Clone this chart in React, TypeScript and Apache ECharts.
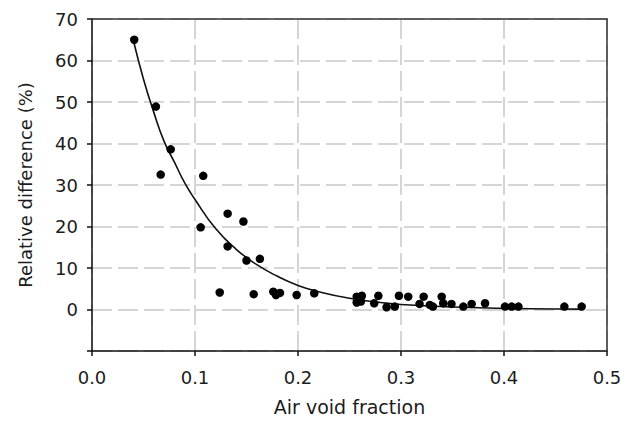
import React, { useEffect, useRef } from "react";
import * as echarts from "echarts";

const pointX = [
  0.041, 0.062, 0.0764, 0.0667, 0.108, 0.1055, 0.1317, 0.147, 0.1317, 0.150,
  0.163, 0.124, 0.157, 0.176, 0.1786, 0.1825, 0.1987, 0.2158, 0.257, 0.262,
  0.257, 0.261, 0.278, 0.274, 0.286, 0.294, 0.298, 0.307, 0.322, 0.318,
  0.328, 0.331, 0.3395, 0.341, 0.349, 0.3605, 0.3686, 0.3816, 0.401, 0.4075,
  0.414, 0.4586, 0.4754,
];
const pointY = [
  65.0, 48.9, 38.6, 32.5, 32.2, 19.8, 23.1, 21.2, 15.2, 11.8,
  12.2, 4.1, 3.7, 4.3, 3.5, 4.0, 3.5, 3.9, 3.1, 3.3,
  1.7, 1.9, 3.3, 1.5, 0.55, 0.7, 3.3, 3.1, 3.1, 1.35,
  1.1, 0.7, 3.1, 1.5, 1.35, 0.7, 1.35, 1.5, 0.7, 0.7,
  0.7, 0.7, 0.7,
];

const curveX = [0.04, 0.05, 0.06, 0.07, 0.08, 0.09, 0.10, 0.12, 0.14, 0.16, 0.18, 0.20, 0.22, 0.25, 0.28, 0.30, 0.35, 0.40, 0.45, 0.475];
const curveY = [65, 55.5, 47.5, 40.5, 35.5, 30.5, 26.5, 19.5, 14.5, 10.8, 8.0, 5.8, 4.3, 2.7, 1.7, 1.2, 0.6, 0.3, 0.12, 0.08];

const xTicks = [0, 0.1, 0.2, 0.3, 0.4, 0.5];
const yTicks = [-10, 0, 10, 20, 30, 40, 50, 60, 70];

const FONT = "DejaVu Sans";
const TEXT = "#1c1c1c";
const LINE = "#111";

export default function App() {
  const ref = useRef<HTMLDivElement>(null);
  useEffect(() => {
    document.body.style.margin = "0";
    document.documentElement.style.overflow = "hidden";
    if (!ref.current) return;
    const chart = echarts.init(ref.current, null, { renderer: "svg" });
    const xMin = xTicks[0];
    const xMax = xTicks[xTicks.length - 1];
    const yMin = yTicks[0];
    const yMax = yTicks[yTicks.length - 1];
    chart.setOption({
      animation: false,
      backgroundColor: "#ffffff",
      grid: { left: 92, top: 19, right: 19, bottom: 68 },
      xAxis: [
        {
          type: "value",
          min: xMin,
          max: xMax,
          interval: 0.1,
          name: "Air void fraction",
          nameLocation: "middle",
          nameGap: 46,
          nameTextStyle: { fontFamily: FONT, fontSize: 19, color: TEXT },
          axisLine: { show: true, onZero: false, lineStyle: { color: LINE, width: 1.5 } },
          axisTick: { show: true, inside: false, length: 5, lineStyle: { color: LINE, width: 1.5 } },
          axisLabel: {
            fontFamily: FONT,
            fontSize: 18,
            color: TEXT,
            margin: 17,
            formatter: (v: number) => v.toFixed(1),
          },
          splitLine: { show: true, lineStyle: { color: "#c8c8c8", width: 1.5, type: [20, 6] } },
        },
        {
          type: "value",
          position: "top",
          min: xMin,
          max: xMax,
          interval: 0.1,
          axisLine: { show: true, onZero: false, lineStyle: { color: "#333", width: 1.5 } },
          axisTick: { show: false },
          axisLabel: { show: false },
          splitLine: { show: false },
          z: 5,
        },
      ],
      yAxis: [
        {
          type: "value",
          min: yMin,
          max: yMax,
          interval: 10,
          name: "Relative difference (%)",
          nameLocation: "middle",
          nameGap: 58,
          nameTextStyle: { fontFamily: FONT, fontSize: 18, color: TEXT },
          axisLine: { show: true, onZero: false, lineStyle: { color: LINE, width: 1.5 } },
          axisTick: { show: true, inside: false, length: 5, lineStyle: { color: LINE, width: 1.5 } },
          axisLabel: {
            fontFamily: FONT,
            fontSize: 18,
            color: TEXT,
            margin: 14,
            formatter: (v: number) => (v < 0 ? "" : String(v)),
          },
          splitLine: { show: true, lineStyle: { color: "#c8c8c8", width: 1.5, type: [20, 6] } },
        },
        {
          type: "value",
          position: "right",
          min: yMin,
          max: yMax,
          interval: 10,
          axisLine: { show: true, onZero: false, lineStyle: { color: "#333", width: 1.5 } },
          axisTick: { show: false },
          axisLabel: { show: false },
          splitLine: { show: false },
          z: 5,
        },
      ],
      series: [
        {
          type: "line",
          data: curveX.map((x, i) => [x, curveY[i]]),
          smooth: true,
          showSymbol: false,
          lineStyle: { color: LINE, width: 1.6 },
          z: 3,
        },
        {
          type: "scatter",
          data: pointX.map((x, i) => [x, pointY[i]]),
          symbolSize: 8.5,
          itemStyle: { color: "#000", opacity: 1 },
          z: 4,
        },
      ],
    });
    return () => chart.dispose();
  }, []);
  return <div ref={ref} style={{ width: 626, height: 421 }} />;
}
